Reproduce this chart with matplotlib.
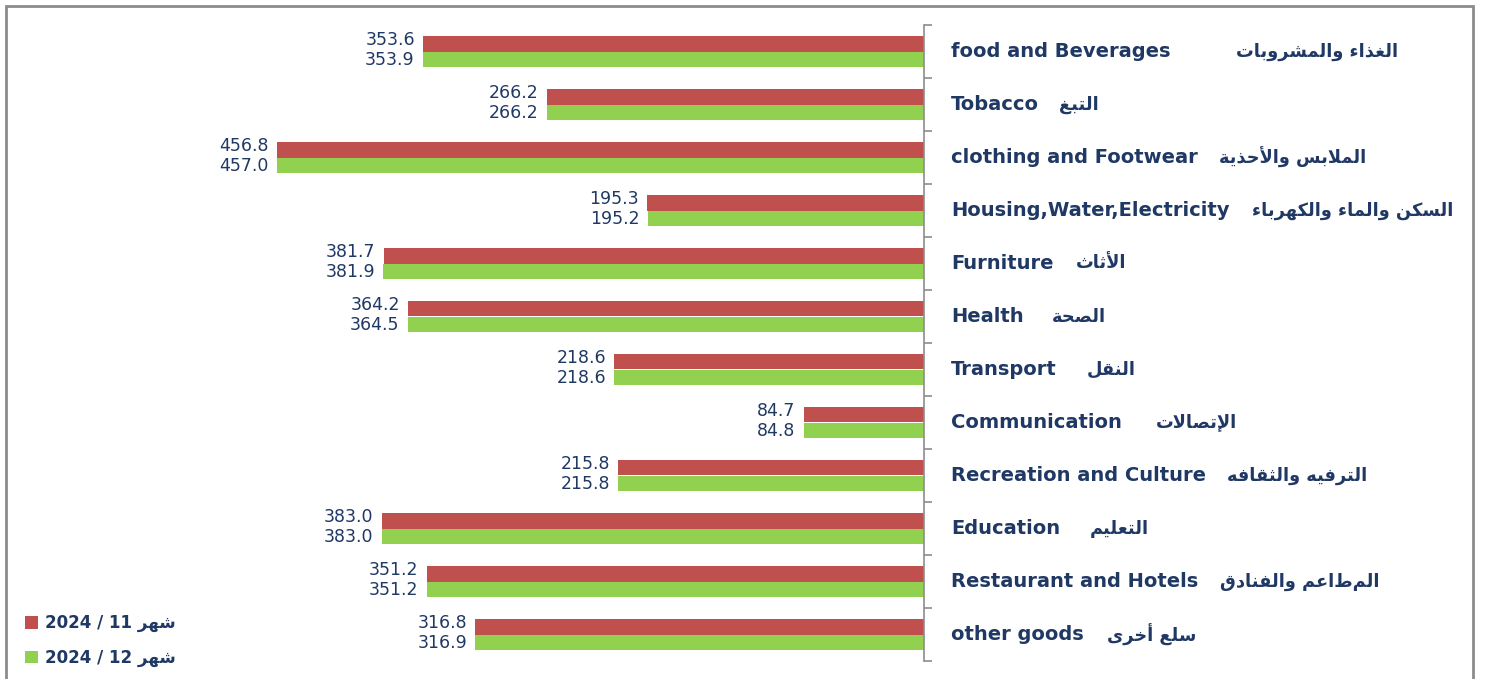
import numpy as np
import matplotlib
matplotlib.use('Agg')
import matplotlib.pyplot as plt
from matplotlib.patches import Rectangle, Patch

# ---- data ----
cats_en = ['food and Beverages', 'Tobacco', 'clothing and Footwear', 'Housing,Water,Electricity',
           'Furniture', 'Health', 'Transport', 'Communication', 'Recreation and Culture',
           'Education', 'Restaurant and Hotels', 'other goods']
cats_ar = ['الغذاء والمشروبات', 'التبغ', 'الملابس والأحذية', 'السكن والماء والكهرباء',
           'الأثاث', 'الصحة', 'النقل', 'الإتصالات', 'الترفيه والثقافه',
           'التعليم', 'المطاعم والفنادق', 'سلع أخرى']
nov = [353.6, 266.2, 456.8, 195.3, 381.7, 364.2, 218.6, 84.7, 215.8, 383.0, 351.2, 316.8]
dec = [353.9, 266.2, 457.0, 195.2, 381.9, 364.5, 218.6, 84.8, 215.8, 383.0, 351.2, 316.9]
leg_labels = ['شهر 11 / 2024', 'شهر 12 / 2024']

# gap (px) between english and arabic label
gaps = [66, 20, 21, 23, 22, 28, 30, 34, 21, 30, 22, 23]

RED = '#C0504D'
GREEN = '#92D050'
NAVY = '#1F3864'

# ---- tiny arabic shaper (matplotlib has no bidi / joining) ----
# char: (isolated, final, initial, medial)
FORMS = {
    'ء': ('\uFE80', None, None, None),
    'أ': ('\uFE83', '\uFE84', None, None),
    'إ': ('\uFE87', '\uFE88', None, None),
    'ا': ('\uFE8D', '\uFE8E', None, None),
    'ب': ('\uFE8F', '\uFE90', '\uFE91', '\uFE92'),
    'ة': ('\uFE93', '\uFE94', None, None),
    'ت': ('\uFE95', '\uFE96', '\uFE97', '\uFE98'),
    'ث': ('\uFE99', '\uFE9A', '\uFE9B', '\uFE9C'),
    'ح': ('\uFEA1', '\uFEA2', '\uFEA3', '\uFEA4'),
    'خ': ('\uFEA5', '\uFEA6', '\uFEA7', '\uFEA8'),
    'د': ('\uFEA9', '\uFEAA', None, None),
    'ذ': ('\uFEAB', '\uFEAC', None, None),
    'ر': ('\uFEAD', '\uFEAE', None, None),
    'س': ('\uFEB1', '\uFEB2', '\uFEB3', '\uFEB4'),
    'ش': ('\uFEB5', '\uFEB6', '\uFEB7', '\uFEB8'),
    'ص': ('\uFEB9', '\uFEBA', '\uFEBB', '\uFEBC'),
    'ع': ('\uFEC9', '\uFECA', '\uFECB', '\uFECC'),
    'غ': ('\uFECD', '\uFECE', '\uFECF', '\uFED0'),
    'ف': ('\uFED1', '\uFED2', '\uFED3', '\uFED4'),
    'ق': ('\uFED5', '\uFED6', '\uFED7', '\uFED8'),
    'ك': ('\uFED9', '\uFEDA', '\uFEDB', '\uFEDC'),
    'ل': ('\uFEDD', '\uFEDE', '\uFEDF', '\uFEE0'),
    'م': ('\uFEE1', '\uFEE2', '\uFEE3', '\uFEE4'),
    'ن': ('\uFEE5', '\uFEE6', '\uFEE7', '\uFEE8'),
    'ه': ('\uFEE9', '\uFEEA', '\uFEEB', '\uFEEC'),
    'و': ('\uFEED', '\uFEEE', None, None),
    'ى': ('\uFEEF', '\uFEF0', None, None),
    'ي': ('\uFEF1', '\uFEF2', '\uFEF3', '\uFEF4'),
}
LAM_ALEF = {'ا': ('\uFEFB', '\uFEFC'), 'أ': ('\uFEF7', '\uFEF8'), 'إ': ('\uFEF9', '\uFEFA')}


def shape_word(w):
    toks = []
    i = 0
    while i < len(w):
        if w[i] == 'ل' and i + 1 < len(w) and w[i + 1] in LAM_ALEF:
            toks.append(('LA', w[i + 1]))
            i += 2
        else:
            toks.append(('C', w[i]))
            i += 1

    def joins_next(t):
        if t[0] == 'LA':
            return False
        f = FORMS.get(t[1])
        return f is not None and f[2] is not None

    def joins_prev(t):
        if t[0] == 'LA':
            return True
        f = FORMS.get(t[1])
        return f is not None and f[1] is not None

    out = []
    for k, t in enumerate(toks):
        pj = k > 0 and joins_next(toks[k - 1]) and joins_prev(t)
        nj = k < len(toks) - 1 and joins_next(t) and joins_prev(toks[k + 1])
        if t[0] == 'LA':
            out.append(LAM_ALEF[t[1]][1 if pj else 0])
            continue
        f = FORMS.get(t[1])
        if f is None:
            out.append(t[1])
        elif pj and nj:
            out.append(f[3])
        elif pj:
            out.append(f[1])
        elif nj:
            out.append(f[2])
        else:
            out.append(f[0])
    return ''.join(reversed(out))


def rtl(s):
    words = s.split(' ')
    res = []
    for w in reversed(words):
        if any('\u0600' <= ch <= '\u06FF' for ch in w):
            res.append(shape_word(w))
        else:
            res.append(w)
    return ' '.join(res)


# ---- figure ----
W, H = 1485, 679
fig = plt.figure(figsize=(W / 100, H / 100), dpi=100)
fig.patch.set_facecolor('white')

x0, x1 = 74.5, 924
y_top, y_bot = 25, 661
ax = fig.add_axes([x0 / W, 1 - y_bot / H, (x1 - x0) / W, (y_bot - y_top) / H])

y = np.arange(len(cats_en))
bh = 0.3
ax.barh(y - bh / 2, nov, height=bh, color=RED, label=leg_labels[0])
ax.barh(y + bh / 2, dec, height=bh, color=GREEN, label=leg_labels[1])

ax.set_xlim(600, 0)
ax.set_ylim(len(cats_en) - 0.5, -0.5)

for i in range(len(cats_en)):
    ax.annotate(f'{nov[i]:.1f}', (nov[i], y[i] - bh / 2), xytext=(-6, 2.5),
                textcoords='offset points', ha='right', va='center',
                fontsize=12.5, color=NAVY)
    ax.annotate(f'{dec[i]:.1f}', (dec[i], y[i] + bh / 2), xytext=(-6, -0.5),
                textcoords='offset points', ha='right', va='center',
                fontsize=12.5, color=NAVY)

trans = ax.get_yaxis_transform()
for i in range(len(cats_en)):
    t_en = ax.text(1.0 + 27 / (x1 - x0), y[i], cats_en[i], transform=trans,
                   ha='left', va='center', fontsize=14, fontweight='bold',
                   color=NAVY, family='DejaVu Sans')
    ax.annotate(rtl(cats_ar[i]), xy=(1, 0.5), xycoords=t_en,
                xytext=(gaps[i] * 0.72, 0), textcoords='offset points',
                ha='left', va='center', fontsize=12.8, fontweight='bold',
                color=NAVY, family='DejaVu Sans')

for s in ['top', 'left', 'bottom']:
    ax.spines[s].set_visible(False)
ax.spines['right'].set_color('#8c8c8c')
ax.spines['right'].set_linewidth(1.2)
ax.yaxis.tick_right()
ax.set_yticks(np.arange(-0.5, len(cats_en), 1))
ax.set_yticklabels([])
ax.tick_params(axis='y', length=6, color='#8c8c8c', width=1.2)
ax.set_xticks([])

handles = [Patch(facecolor=RED), Patch(facecolor=GREEN)]
fig.legend(handles, [rtl(s) for s in leg_labels], loc='lower left',
           bbox_to_anchor=(10 / W, -3 / H), frameon=False,
           prop={'size': 12, 'weight': 'bold', 'family': 'DejaVu Sans'},
           labelcolor=NAVY, handlelength=0.8, handleheight=0.8,
           handletextpad=0.4, labelspacing=1.0)

# outer frame
fig.add_artist(Rectangle((6 / W, -0.05), (1473 - 6) / W, 1 - 6 / H + 0.05,
                         transform=fig.transFigure, fill=False,
                         edgecolor='#8c8c8c', linewidth=2))

fig.savefig('out.png', dpi=100)
